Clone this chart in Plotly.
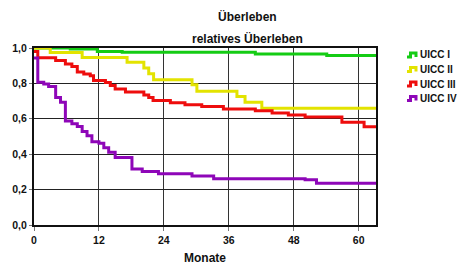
import plotly.graph_objects as go

# ---- data ----
series_names = ["UICC I", "UICC II", "UICC III", "UICC IV"]
series_colors = ["#14CC14", "#E3E300", "#EE0D0D", "#8E06B8"]

t_uicc1 = [0, 6.7, 11.7, 16.3, 40.9, 54.1, 63.2]
s_uicc1 = [1.0, 0.995, 0.98, 0.976, 0.966, 0.957, 0.957]

t_uicc2 = [0, 3.0, 8.9, 17.2, 20.3, 21.2, 22.1, 29.2, 30.1, 37.5, 39.0, 42.1, 63.2]
s_uicc2 = [1.0, 0.975, 0.947, 0.92, 0.887, 0.855, 0.82, 0.792, 0.755, 0.726, 0.694, 0.66, 0.66]

t_uicc3 = [0, 0.7, 4.0, 5.8, 7.0, 8.0, 9.2, 10.4, 11.0, 13.2, 14.1, 15.0, 16.9,
           20.3, 21.2, 22.0, 25.2, 27.9, 31.0, 35.0, 40.9, 44.0, 47.0, 50.1,
           56.9, 61.0, 63.2]
s_uicc3 = [0.98, 0.945, 0.93, 0.91, 0.895, 0.865, 0.853, 0.843, 0.817, 0.805,
           0.788, 0.768, 0.752, 0.735, 0.72, 0.703, 0.69, 0.68, 0.67, 0.656,
           0.645, 0.633, 0.622, 0.61, 0.58, 0.555, 0.555]

t_uicc4 = [0, 0.7, 1.8, 2.7, 4.0, 4.9, 5.8, 7.0, 8.0, 8.9, 9.8, 10.7, 12.0,
           12.9, 13.8, 15.0, 18.1, 20.0, 23.0, 29.2, 33.2, 50.1, 52.2, 63.2]
s_uicc4 = [0.943, 0.807, 0.796, 0.783, 0.721, 0.693, 0.587, 0.572, 0.556,
           0.528, 0.504, 0.471, 0.462, 0.437, 0.411, 0.381, 0.317, 0.302,
           0.289, 0.277, 0.262, 0.255, 0.236, 0.236]

x_tickvals = [0, 12, 24, 36, 48, 60]
y_tickvals = [0.0, 0.2, 0.4, 0.6, 0.8, 1.0]
y_ticktext = ["0,0", "0,2", "0,4", "0,6", "0,8", "1,0"]

title_line1 = "Überleben"
title_line2 = "relatives Überleben"
x_title = "Monate"

# ---- figure ----
W, H = 457, 266
L, R, T, B = 34, 81, 48, 41
pw, ph = W - L - R, H - T - B

def px_x(p):
    return (p - L) / pw

def px_y(p):
    return (H - B - p) / ph

fig = go.Figure()
all_t = [t_uicc1, t_uicc2, t_uicc3, t_uicc4]
all_s = [s_uicc1, s_uicc2, s_uicc3, s_uicc4]
for name, col, tt, ss in zip(series_names, series_colors, all_t, all_s):
    fig.add_trace(go.Scatter(x=tt, y=ss, name=name, mode="lines",
                             line=dict(color=col, width=3, shape="hv"),
                             showlegend=False))

bold = "Liberation Sans, Arial, sans-serif"

fig.update_layout(
    width=W, height=H,
    margin=dict(l=L, r=R, t=T, b=B, autoexpand=False),
    paper_bgcolor="white", plot_bgcolor="white",
    font=dict(family=bold, size=12, color="#111"),
    xaxis=dict(range=[0, 63.2], tickvals=x_tickvals,
               ticktext=["<b>%d</b>" % v for v in x_tickvals],
               showgrid=True, automargin=False,
               gridcolor="#333", gridwidth=1, zeroline=False,
               showline=True, linecolor="#111", linewidth=2, mirror=True,
               ticks="outside", ticklen=4, tickcolor="#777",
               tickfont=dict(family=bold, size=10.5, color="#111"),
               title=dict(text="<b>" + x_title + "</b>", standoff=9,
                          font=dict(family=bold, size=12, color="#111"))),
    yaxis=dict(range=[0, 1.0], tickvals=y_tickvals,
               ticktext=["<b>%s</b>" % s for s in y_ticktext],
               showgrid=True, automargin=False,
               gridcolor="#222", gridwidth=1, zeroline=False,
               showline=True, linecolor="#111", linewidth=2, mirror=True,
               ticks="outside", ticklen=3, tickcolor="#777",
               tickfont=dict(family=bold, size=10.5, color="#111")),
)

# titles
fig.add_annotation(text="<b>" + title_line1 + "</b>", xref="paper", yref="paper",
                   x=px_x(247), y=px_y(17), xanchor="center", yanchor="middle",
                   showarrow=False, font=dict(family=bold, size=12, color="#111"))
fig.add_annotation(text="<b>" + title_line2 + "</b>", xref="paper", yref="paper",
                   x=px_x(247), y=px_y(38), xanchor="center", yanchor="middle",
                   showarrow=False, font=dict(family=bold, size=12, color="#111"))

# legend (step symbol + label)
for i, (name, col) in enumerate(zip(series_names, series_colors)):
    yc = 55 + i * 14.5
    x0, x1, x2, x3 = 407, 410.5, 416, 416
    path = "M %f,%f L %f,%f L %f,%f L %f,%f L %f,%f" % (
        px_x(x0), px_y(yc + 2), px_x(x1), px_y(yc + 2), px_x(x1), px_y(yc - 2),
        px_x(x2), px_y(yc - 2), px_x(x3), px_y(yc + 2))
    fig.add_shape(type="path", path=path, xref="paper", yref="paper",
                  line=dict(color=col, width=3))
    fig.add_annotation(text="<b>" + name + "</b>", xref="paper", yref="paper",
                       x=px_x(418), y=px_y(yc), xanchor="left", yanchor="middle",
                       showarrow=False,
                       font=dict(family=bold, size=10, color="#111"))

fig.write_html("out.html", config={"displayModeBar": False},
               post_script="document.body.style.margin='0';"
                           "document.body.style.padding='0';")
